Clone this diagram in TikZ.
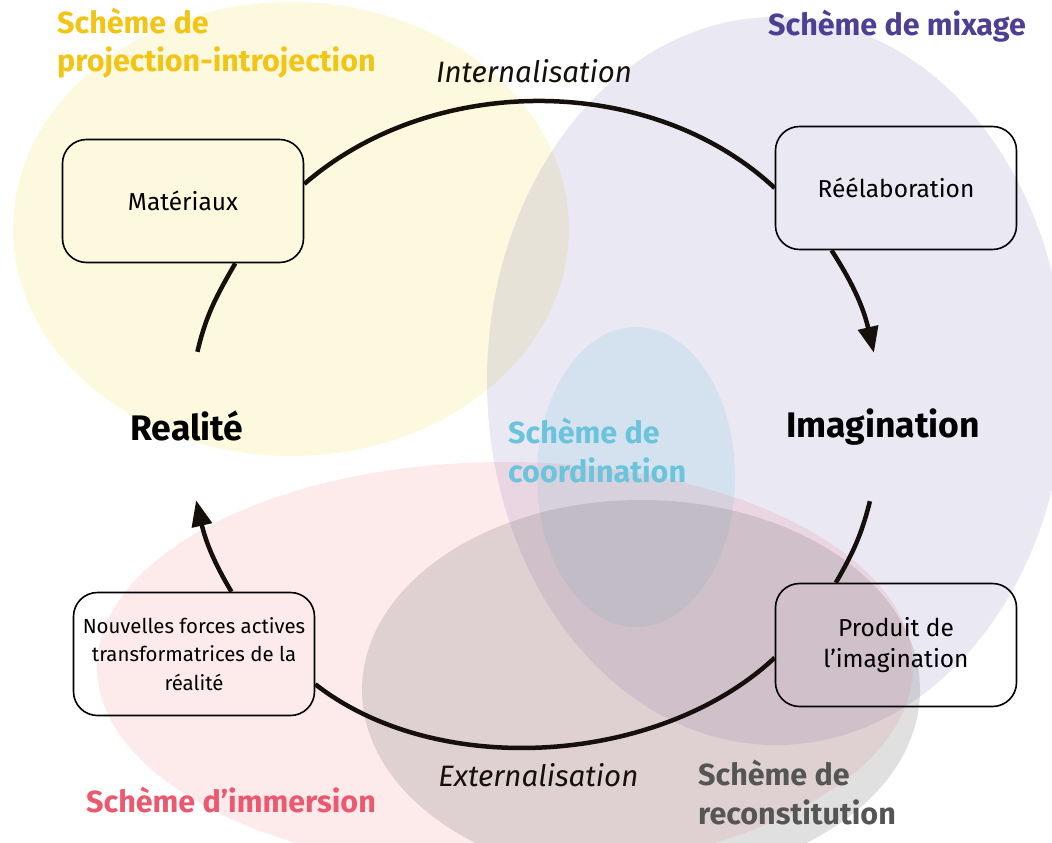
\documentclass[tikz,border=0pt]{standalone}
\usepackage{fontspec}
\setmainfont{Fira Sans}
\usetikzlibrary{positioning,arrows.meta}

\definecolor{projcol}{RGB}{240,225,90}
\definecolor{mixcol}{RGB}{120,110,180}
\definecolor{coordcol}{RGB}{120,200,225}
\definecolor{immcol}{RGB}{240,100,110}
\definecolor{recocol}{RGB}{110,110,110}
\definecolor{projtxt}{RGB}{242,196,20}
\definecolor{mixtxt}{RGB}{77,64,148}
\definecolor{coordtxt}{RGB}{105,196,220}
\definecolor{immtxt}{RGB}{236,88,110}
\definecolor{recotxt}{RGB}{85,85,85}
\definecolor{cyclecol}{RGB}{22,16,12}

\begin{document}
\begin{tikzpicture}[x=1pt, y=1pt,
  zone/.style={fill opacity=#1},
  scheme/.style={inner sep=0pt, align=left, font=\fontsize{30.5}{39}\selectfont\bfseries},
  stage/.style={draw, line width=1.6pt, rounded corners=24pt, minimum width=241pt,
                minimum height=123pt, align=center, font=\fontsize{24.5}{31}\selectfont},
  pole/.style={minimum height=148pt, inner sep=0pt, font=\fontsize{35.5}{40}\selectfont\bfseries},
  phase/.style={inner sep=0pt, font=\fontsize{29.5}{34}\selectfont\itshape}]
\useasboundingbox (0,0) rectangle (1052,-843);
% zones
\fill[projcol, zone=0.2]  (291,-229) ellipse [x radius=278pt, y radius=227pt];
\fill[mixcol, zone=0.16]  (776,-381) ellipse [x radius=289pt, y radius=364pt];
\fill[coordcol, zone=0.19](636,-477) ellipse [x radius=99pt,  y radius=150pt];
\fill[immcol, zone=0.13]  (505,-667) ellipse [x radius=408pt, y radius=205pt];
\fill[recocol, zone=0.21] (641,-690) ellipse [x radius=279pt, y radius=190pt];
% stades
\node[stage] (materiaux) at (183,-201) {Matériaux};
\node[stage] (reelab)    at (896,-188) {Réélaboration};
\node[stage] (produit)   at (896,-645) {Produit de\\l’imagination};
\node[stage, font=\fontsize{20.4}{28.5}\selectfont] (forces) at (194,-654)
  {Nouvelles forces actives\\transformatrices de la\\réalité};
\node[pole] (realite) at (187,-426) {Realité};
\node[pole] (imagin)  at (883,-427) {Imagination};
% schemes
\node[scheme, text=projtxt, anchor=base west]   (projlbl)  at (57,-72)   {Schème de\\projection-introjection};
\node[scheme, text=mixtxt, anchor=base east]    (mixlbl)   at (1026,-36) {Schème de mixage};
\node[scheme, text=coordtxt, anchor=base west]  (coordlbl) at (508,-482) {Schème de\\coordination};
\node[scheme, text=immtxt, anchor=base west]    (immlbl)   at (86,-812)  {Schème d’immersion};
\node[scheme, text=recotxt, anchor=base west]   (recolbl)  at (698,-824) {Schème de\\reconstitution};
\path[line width=4.5pt, color=cyclecol, >={Triangle[length=26pt,width=20pt]}]
  (realite.82)   edge[out=77, in=240]   (materiaux.310)
  (materiaux.8)  edge[out=41, in=137, looseness=0.92]
                 node[phase, above=16pt, xshift=-7pt] (intern) {Internalisation} (reelab.west)
  (reelab.224)   edge[->, out=-57, in=103] (imagin.97)
  (imagin.260)   edge[out=256, in=60]   (produit.134)
  (produit.186)  edge[out=223, in=322, looseness=0.87]
                 node[phase, below=14pt, xshift=-10pt] (extern) {Externalisation} (forces.346)
  (forces.59)    edge[->, out=121, in=283] (realite.277)
; %-cycle-%
\end{tikzpicture}
\end{document}
